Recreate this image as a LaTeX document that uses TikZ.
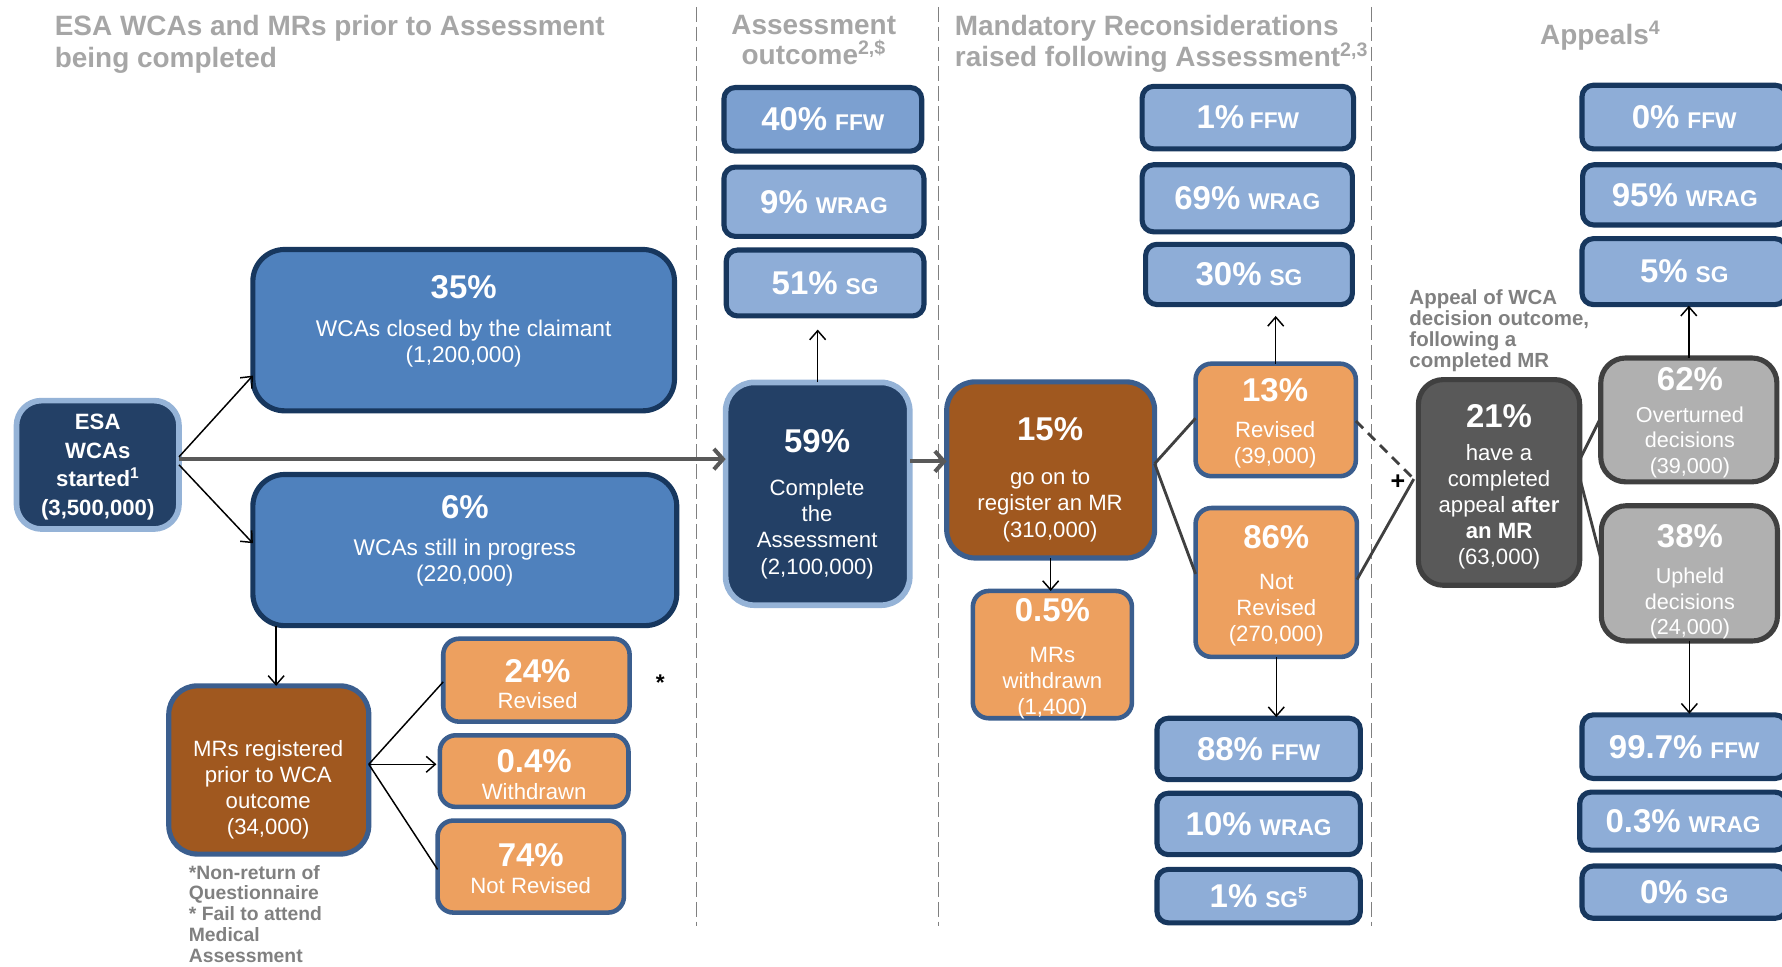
\documentclass[tikz,border=0pt]{standalone}
\usepackage{fontspec}
\setmainfont{Liberation Sans}
\usetikzlibrary{arrows.meta,calc}
\definecolor{navyfill}{HTML}{234066}
\definecolor{navyedge}{HTML}{95B3D7}
\definecolor{midblue}{HTML}{4F81BD}
\definecolor{darkedge}{HTML}{17375E}
\definecolor{lightblue}{HTML}{8EADD7}
\definecolor{lightblueB}{HTML}{7CA0D0}
\definecolor{orangefill}{HTML}{EDA05F}
\definecolor{blueedge}{HTML}{3B5E8E}
\definecolor{brownfill}{HTML}{A0581F}
\definecolor{darkgrayfill}{HTML}{595959}
\definecolor{lightgrayfill}{HTML}{B0B0B0}
\definecolor{grayedge}{HTML}{404040}
\definecolor{titlegray}{HTML}{A6A6A6}
\definecolor{notegray}{HTML}{808080}
\definecolor{arrowgray}{HTML}{595959}
\definecolor{dividergray}{HTML}{808080}
\newcommand\PctB[1]{{\fontsize{29}{30}\selectfont\bfseries #1}}
\newcommand\CatB[1]{{\fontsize{20}{22}\selectfont\bfseries #1}}
\newcommand\PctCat[2]{\PctB{#1}\hspace{7pt}\CatB{#2}}
\tikzset{
  boxbase/.style={inner sep=0pt, outer sep=0pt},
  navybox/.style={boxbase, fill=navyfill, draw=navyedge, line width=5pt, rounded corners=22pt},
  bigblue/.style={boxbase, fill=midblue, draw=darkedge, line width=4.5pt, rounded corners=28pt},
  outbox/.style={boxbase, fill=lightblue, draw=darkedge, line width=4.5pt, rounded corners=10pt, text=white},
  orangebox/.style={boxbase, fill=orangefill, draw=blueedge, line width=4pt, rounded corners=14pt},
  brownbox/.style={boxbase, fill=brownfill, draw=blueedge, line width=4.5pt, rounded corners=25pt},
  dgbox/.style={boxbase, fill=darkgrayfill, draw=grayedge, line width=4.5pt, rounded corners=22pt},
  lgbox/.style={boxbase, fill=lightgrayfill, draw=grayedge, line width=4.5pt, rounded corners=22pt},
  boxtext/.style={text=white, align=center, inner sep=0pt, font=\fontsize{19.5}{23}\selectfont},
  titletext/.style={text=titlegray, inner sep=0pt, font=\fontsize{24.6}{27.5}\selectfont\bfseries},
  notetext/.style={text=notegray, inner sep=0pt, align=left},
  thinarrow/.style={draw=black, line width=1.3pt, -{Straight Barb[length=8pt,width=14pt]}},
  thinline/.style={draw=black, line width=1.3pt},
  grayline/.style={draw=grayedge, line width=2.5pt},
  bigarrow/.style={draw=arrowgray, line width=3.5pt, -{Straight Barb[length=8pt,width=18pt]}},
  divider/.style={draw=dividergray, line width=1.3pt, dash pattern=on 13pt off 4.5pt},
}
\begin{document}
\begin{tikzpicture}[x=1pt,y=-1pt]
\useasboundingbox (0,0) rectangle (1568,850);
\clip (0,0) rectangle (1568,850);

% dividers
\coordinate (d1t) at (613,6); \coordinate (d1b) at (613,815);
\coordinate (d2t) at (826,6); \coordinate (d2b) at (826,815);
\coordinate (d3t) at (1207,6); \coordinate (d3b) at (1207,815);
\draw[divider] (d1t) -- (d1b);
\draw[divider] (d2t) -- (d2b);
\draw[divider] (d3t) -- (d3b);

% titles
\node[titletext, anchor=west, align=left] (title1) at (48,39) {ESA WCAs and MRs prior to Assessment\\being completed};
\node[titletext, align=center, font=\fontsize{24.6}{26.5}\selectfont\bfseries] (title2) at (716,35) {Assessment\\outcome\textsuperscript{2,\$}};
\node[titletext, anchor=west, align=left, font=\fontsize{24.6}{28}\selectfont\bfseries] (title3) at (840,38.5) {Mandatory Reconsiderations\\raised following Assessment\textsuperscript{2,3}};
\node[titletext] (title4) at (1408,31.5) {Appeals\textsuperscript{4}};

% column 1
\node[navybox, minimum width=143pt, minimum height=113pt] (esa) at (86,409) {};
\node[boxtext, font=\fontsize{19.5}{25}\selectfont\bfseries] (esaT) at (86,411) {ESA\\WCAs\\started\textsuperscript{1}\\(3,500,000)};

\node[bigblue, minimum width=371pt, minimum height=142pt] (b35) at (408,290.5) {};
\node[boxtext, font=\fontsize{20}{23}\selectfont] (b35T) at (408,283) {\PctB{35\%}\\[10pt]WCAs closed by the claimant\\(1,200,000)};

\node[bigblue, minimum width=373pt, minimum height=133pt] (b6) at (409,484) {};
\node[boxtext, font=\fontsize{20}{23}\selectfont] (b6T) at (409,476) {\PctB{6\%}\\[10pt]WCAs still in progress\\(220,000)};

\node[brownbox, minimum width=176pt, minimum height=148pt] (mrreg) at (236.5,677.5) {};
\node[boxtext] (mrregT) at (236,695) {MRs registered\\prior to WCA\\outcome\\(34,000)};

\node[orangebox, minimum width=164pt, minimum height=73pt] (r24) at (472,598.5) {};
\node[boxtext] (r24T) at (473,602) {\PctB{24\%}\\[0pt]Revised};
\node[orangebox, minimum width=166pt, minimum height=63pt] (w04) at (470,678.5) {};
\node[boxtext] (w04T) at (470,681.5) {\PctB{0.4\%}\\[1pt]Withdrawn};
\node[orangebox, minimum width=164pt, minimum height=81pt] (n74) at (467,762.5) {};
\node[boxtext] (n74T) at (467,764.5) {\PctB{74\%}\\[1pt]Not Revised};

\node[font=\fontsize{20}{22}\selectfont\bfseries, inner sep=0pt] (star) at (581,601) {*};

\node[notetext, anchor=north west, font=\fontsize{17}{18.3}\selectfont\bfseries] (foot) at (166,761) {*Non-return of\\Questionnaire\\* Fail to attend\\Medical\\Assessment};

% column 2
\node[outbox, fill=lightblueB, minimum width=174pt, minimum height=56pt] (a40) at (724,105) {\PctCat{40\%}{FFW}};
\node[outbox, minimum width=176pt, minimum height=61pt] (a9) at (725,177.5) {\PctCat{9\%}{WRAG}};
\node[outbox, minimum width=174pt, minimum height=58pt] (a51) at (726,249) {\PctCat{51\%}{SG}};

\node[navybox, rounded corners=25pt, minimum width=162pt, minimum height=196pt] (c59) at (719.5,434.5) {};
\node[boxtext] (c59T) at (719,443.5) {\PctB{59\%}\\[15pt]Complete\\the\\Assessment\\(2,100,000)};

% column 3
\node[brownbox, minimum width=183pt, minimum height=155pt] (m15) at (924.5,413.5) {};
\node[boxtext] (m15T) at (924,422) {\PctB{15\%}\\[16pt]go on to\\register an MR\\(310,000)};

\node[orangebox, minimum width=140pt, minimum height=112pt] (m05) at (926,576) {};
\node[boxtext] (m05T) at (926,579.5) {\PctB{0.5\%}\\[13pt]MRs\\withdrawn\\(1,400)};

\node[orangebox, minimum width=141pt, minimum height=99pt] (m13) at (1122.5,369.5) {};
\node[boxtext] (m13T) at (1122,372.5) {\PctB{13\%}\\[9pt]Revised\\(39,000)};

\node[orangebox, minimum width=142pt, minimum height=131pt] (m86) at (1123,512.5) {};
\node[boxtext] (m86T) at (1123,515.5) {\PctB{86\%}\\[13pt]Not\\Revised\\(270,000)};

\node[outbox, minimum width=186pt, minimum height=55pt] (f1) at (1098,103.5) {\PctB{1\%}\hspace{5pt}\CatB{FFW}};
\node[outbox, minimum width=185pt, minimum height=59pt] (f69) at (1097.5,174.5) {\PctCat{69\%}{WRAG}};
\node[outbox, minimum width=182pt, minimum height=53pt] (f30) at (1099,241.5) {\PctCat{30\%}{SG}};

\node[outbox, minimum width=179pt, minimum height=54pt] (g88) at (1107.5,659) {\PctCat{88\%}{FFW}};
\node[outbox, minimum width=179pt, minimum height=54pt] (g10) at (1107.5,725) {\PctCat{10\%}{WRAG}};
\node[outbox, minimum width=179pt, minimum height=47pt] (g1) at (1107.5,788.5) {\PctCat{1\%}{SG\textsuperscript{5}}};

% column 4
\node[notetext, anchor=north west, font=\fontsize{18}{18.5}\selectfont\bfseries] (appnote) at (1240,255) {Appeal of WCA\\decision outcome,\\following a\\completed MR};

\node[dgbox, minimum width=142pt, minimum height=181pt] (p21) at (1319,424.5) {};
\node[boxtext] (p21T) at (1319,428.5) {\PctB{21\%}\\[6pt]have a\\completed\\appeal \textbf{after}\\\textbf{an MR}\\(63,000)};

\node[lgbox, minimum width=155pt, minimum height=109pt] (p62) at (1486,369.5) {};
\node[boxtext, font=\fontsize{19}{22.5}\selectfont] (p62T) at (1487,372) {\PctB{62\%}\\[5pt]Overturned\\decisions\\(39,000)};

\node[lgbox, minimum width=155pt, minimum height=119pt] (p38) at (1486.5,504.5) {};
\node[boxtext, font=\fontsize{19}{22.5}\selectfont] (p38T) at (1487,512) {\PctB{38\%}\\[9pt]Upheld\\decisions\\(24,000)};

\node[outbox, minimum width=180pt, minimum height=56pt] (p0) at (1482,103) {\PctCat{0\%}{FFW}};
\node[outbox, minimum width=180pt, minimum height=53pt] (p95) at (1482.5,171.5) {\PctCat{95\%}{WRAG}};
\node[outbox, minimum width=180pt, minimum height=58pt] (p5) at (1482,239) {\PctCat{5\%}{SG}};

\node[outbox, minimum width=180pt, minimum height=56pt] (q997) at (1482,657) {\PctCat{99.7\%}{FFW}};
\node[outbox, minimum width=182pt, minimum height=51pt] (q03) at (1481,722.5) {\PctCat{0.3\%}{WRAG}};
\node[outbox, minimum width=180pt, minimum height=46pt] (q0) at (1482,785) {\PctCat{0\%}{SG}};

\node[font=\fontsize{22}{22}\selectfont\bfseries, inner sep=0pt] (plus) at (1230,424) {+};

% connectors
\draw[bigarrow] ([yshift=5pt]esa.east) -- ([yshift=5pt]esa.east -| c59.west);
\draw[bigarrow] ([yshift=28.5pt]c59.east) -- ([yshift=28.5pt]c59.east -| m15.west);
\draw[thinarrow] ([yshift=7pt]esa.east) -- ([yshift=-40pt]b35.west);
\draw[thinarrow] ([yshift=0pt]esa.east) -- ([yshift=6pt]b6.west);
\draw[thinarrow] ([xshift=-166pt]b6.south) -- ([xshift=-166pt]b6.south |- mrreg.north);
\coordinate (mrr) at ([yshift=5pt]mrreg.east);
\draw[thinline] (mrr) -- ([yshift=-1.5pt]r24.west);
\draw[thinarrow, shorten >=3pt] (mrr) -- (mrr -| w04.west);
\draw[thinline] (mrr) -- ([yshift=-2.5pt]n74.west);
\draw[thinarrow, shorten >=12pt] (c59.north) -- (c59.north |- a51.south);
\draw[thinarrow] (m15.south) -- (m15.south |- m05.north);
\draw[grayline] ([yshift=5.5pt]m15.east) -- ([yshift=1.5pt]m13.west);
\draw[grayline] ([yshift=5.5pt]m15.east) -- ([yshift=7.5pt]m86.west);
\draw[thinarrow, shorten >=10pt] (m13.north) -- (m13.north |- f30.south);
\draw[thinarrow, shorten >=1pt] (m86.south) -- (m86.south |- g88.north);
\coordinate (pj) at ([xshift=-4pt,yshift=3pt]p21.west);
\draw[grayline, dash pattern=on 9pt off 6pt] ([yshift=-1pt]m13.east) -- (pj);
\draw[grayline] ([yshift=2.5pt]m86.east) -- (pj);
\draw[grayline] ([yshift=20pt]p21.east) -- ([yshift=2pt]p62.west);
\draw[grayline] ([yshift=4pt]p21.east) -- ([yshift=11.5pt]p38.west);
\draw[thinarrow, shorten >=1pt] (p62.north) -- (p62.north |- p5.south);
\draw[thinarrow, shorten >=1pt] (p38.south) -- (p38.south |- q997.north);
\end{tikzpicture}
\end{document}
